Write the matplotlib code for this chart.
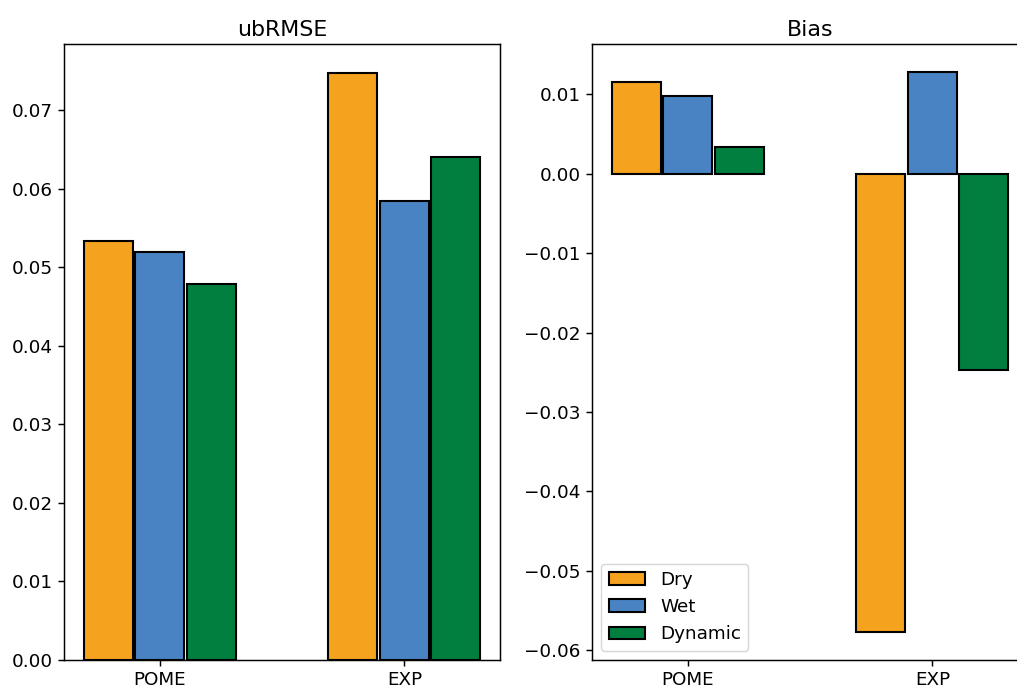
import numpy as np
import matplotlib
matplotlib.use("Agg")
import matplotlib.pyplot as plt

# scores per experiment and soil-moisture scheme
groups = ["POME", "EXP"]
schemes = ["Dry", "Wet", "Dynamic"]
ubrmse = {
    "Dry": [0.0533, 0.0747],
    "Wet": [0.0519, 0.0584],
    "Dynamic": [0.0479, 0.0641],
}
bias = {
    "Dry": [0.0115, -0.0577],
    "Wet": [0.0098, 0.0128],
    "Dynamic": [0.0034, -0.0247],
}
colors = {"Dry": "#F5A21F", "Wet": "#4A83C4", "Dynamic": "#007F3F"}

scale = 1.325
plt.rcParams["font.size"] = 10 * scale
plt.rcParams["axes.linewidth"] = 0.8 * scale
plt.rcParams["xtick.major.width"] = 0.8 * scale
plt.rcParams["ytick.major.width"] = 0.8 * scale
plt.rcParams["xtick.major.size"] = 3.5 * scale
plt.rcParams["ytick.major.size"] = 3.5 * scale
plt.rcParams["legend.fontsize"] = 10 * scale

fig = plt.figure(figsize=(10.17, 6.89), dpi=100)
ax1 = fig.add_axes([64 / 1017, 29 / 689, 436 / 1017, 616 / 689])
ax2 = fig.add_axes([592 / 1017, 29 / 689, 436 / 1017, 616 / 689])

x = np.arange(len(groups))
width = 0.2
offsets = [-0.21, 0.0, 0.21]

for ax, data, title in [(ax1, ubrmse, "ubRMSE"), (ax2, bias, "Bias")]:
    for s, off in zip(schemes, offsets):
        ax.bar(x + off, data[s], width, color=colors[s], edgecolor="black",
               linewidth=1.5, label=s)
    ax.set_xticks(x)
    ax.set_xticklabels(groups)
    ax.set_title(title)

ax1.set_yticks(np.arange(0, 0.071, 0.01))
ax2.set_yticks(np.arange(-0.06, 0.011, 0.01))
ax2.legend(loc="lower left")

fig.savefig("out.png", dpi=100)
